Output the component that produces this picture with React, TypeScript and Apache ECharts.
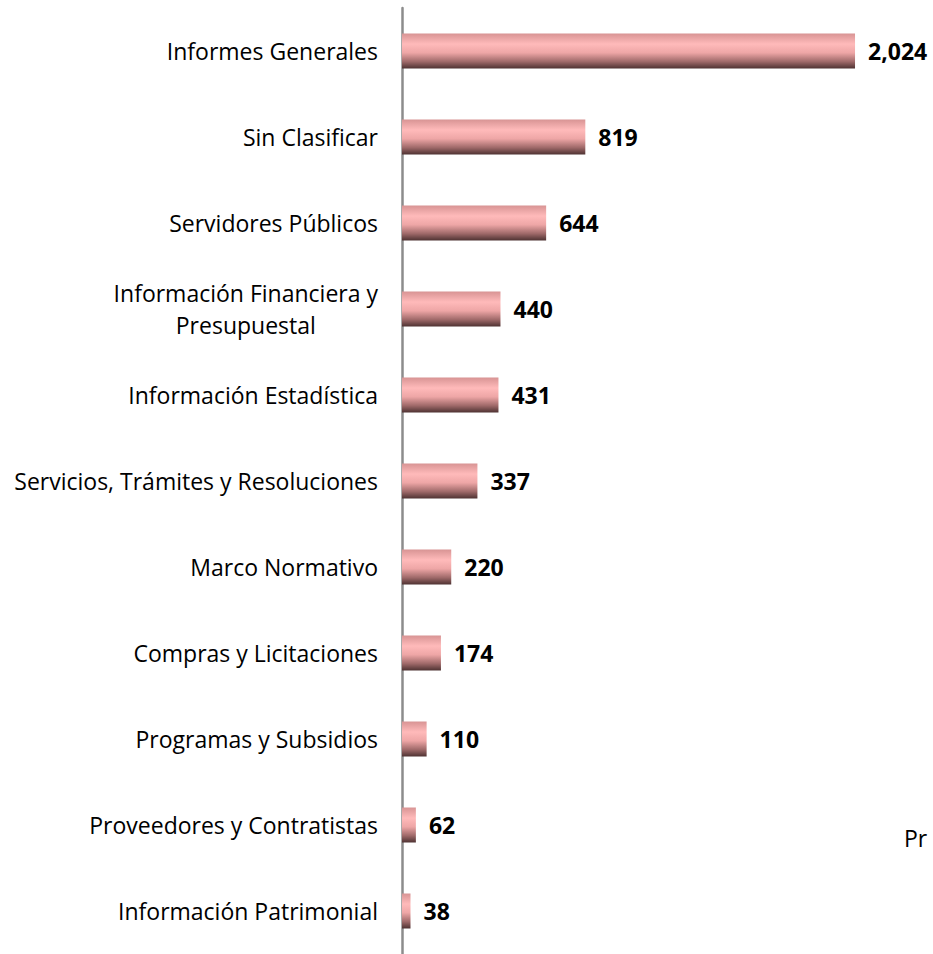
import React, { useEffect, useRef } from "react";
import * as echarts from "echarts";

const categories = [
  "Informes Generales",
  "Sin Clasificar",
  "Servidores Públicos",
  "Información Financiera y\nPresupuestal",
  "Información Estadística",
  "Servicios, Trámites y Resoluciones",
  "Marco Normativo",
  "Compras y Licitaciones",
  "Programas y Subsidios",
  "Proveedores y Contratistas",
  "Información Patrimonial",
];
const values = [2024, 819, 644, 440, 431, 337, 220, 174, 110, 62, 38];
const strayText = "Pr";

export default function App() {
  const ref = useRef<HTMLDivElement>(null);
  useEffect(() => {
    document.body.style.margin = "0";
    const chart = echarts.init(ref.current!, null, { renderer: "svg" });
    const grad = new echarts.graphic.LinearGradient(0, 0, 0, 1, [
      { offset: 0, color: "#d89494" },
      { offset: 0.3, color: "#ffbaba" },
      { offset: 0.55, color: "#eea6a6" },
      { offset: 0.8, color: "#a06a6a" },
      { offset: 1, color: "#4e3232" },
    ]);
    chart.setOption({
      animation: false,
      grid: { left: 402, top: 8, width: 514.8, bottom: -3, containLabel: false },
      xAxis: {
        type: "value",
        min: 0,
        max: 2300,
        show: false,
      },
      yAxis: {
        type: "category",
        inverse: true,
        data: categories,
        axisTick: { show: false },
        axisLine: { show: true, lineStyle: { color: "#8c8c8c", width: 2.5 } },
        axisLabel: {
          margin: 24,
          fontFamily: "Open Sans",
          fontSize: 23,
          color: "#000000",
          align: "right",
          lineHeight: 32,
          formatter: (v: string) =>
            v.includes("\n")
              ? v
                  .split("\n")
                  .map((l) => `{c|${l}}`)
                  .join("\n")
              : v,
          rich: {
            c: { align: "center", fontFamily: "Open Sans", fontSize: 23, color: "#000", lineHeight: 32 },
          },
        },
      },
      series: [
        {
          type: "bar",
          data: values,
          barWidth: 35,
          itemStyle: { color: grad },
          label: {
            show: true,
            position: "right",
            distance: 13,
            fontFamily: "Open Sans",
            fontWeight: "bold",
            fontSize: 23,
            color: "#000",
            formatter: (p: any) => p.value.toLocaleString("en-US"),
          },
        },
      ],
      graphic: [
        {
          type: "text",
          left: 904,
          top: 826,
          style: { text: strayText, fontFamily: "Open Sans", fontSize: 23, fill: "#000" },
        },
      ],
    });
    return () => chart.dispose();
  }, []);
  return <div ref={ref} style={{ width: 933, height: 954 }} />;
}
